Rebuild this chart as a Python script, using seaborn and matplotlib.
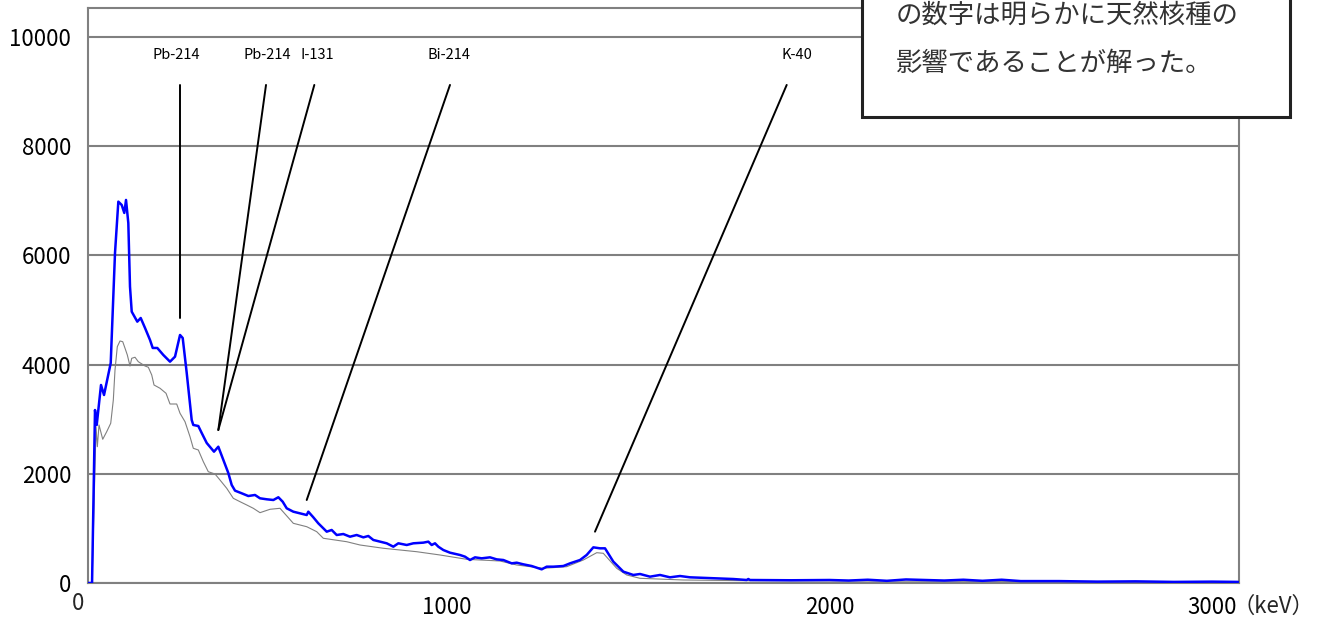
import numpy as np
import pandas as pd
import matplotlib
matplotlib.use("Agg")
import matplotlib.pyplot as plt
from matplotlib.patches import Rectangle
import seaborn as sns

# ---- data (keV, counts) ----
blue_kev = [61, 72, 79.7, 84.2, 95.4, 103.3, 120.8, 132.0, 140.7, 149.5, 156.3, 160.8, 166.8,
            171.2, 175.7, 190.3, 199.2, 210.5, 223.5, 230.6, 242.6, 258.3, 275.8, 288.9, 302.0,
            309.0, 319.5, 332.5, 336.7, 349.8, 358.7, 371.8, 390.8, 402.1, 415.2, 428.2, 437.1,
            445.8, 463.2, 480.5, 498.0, 511.1, 528.6, 546.0, 559.1, 570.4, 580.9, 598.2, 615.7,
            633.2, 637.4, 650.5, 663.5, 676.6, 685.5, 698.5, 711.6, 728.9, 746.4, 763.8, 781.3,
            794.3, 807.4, 824.8, 842.3, 859.7, 872.8, 894.6, 912.0, 938.1, 951.2, 959.9, 968.6,
            977.3, 990.4, 1007.8, 1034.0, 1047.1, 1060.1, 1073.2, 1090.6, 1112.4, 1129.8, 1147.3,
            1169.1, 1182.2, 1199.6, 1221.4, 1247.5, 1260.6, 1278.0, 1304.1, 1321.6, 1347.7,
            1365.1, 1382.6, 1400.0, 1413.1, 1434.8, 1461.0, 1487.1, 1504.6, 1530.7, 1556.9,
            1583.0, 1609.2, 1635.3, 1705.0, 1748.6, 1783.4, 1787.8, 1792.2, 1900, 2000, 2050,
            2100, 2150, 2200, 2300, 2350, 2400, 2450, 2500, 2600, 2700, 2800, 2900, 3000, 3068]
blue_cnt = [0, 0, 3168, 2894, 3626, 3443, 4029, 6044, 6984, 6923, 6777, 7015, 6593,
            5427, 4969, 4786, 4853, 4670, 4451, 4304, 4304, 4176, 4053, 4145, 4542,
            4487, 3846, 2985, 2894, 2875, 2747, 2564, 2405, 2496, 2253, 2015, 1795,
            1691, 1643, 1593, 1612, 1551, 1533, 1520, 1570, 1489, 1368, 1306, 1276,
            1245, 1306, 1203, 1093, 1002, 940, 971, 879, 897, 848, 879, 836,
            861, 788, 757, 727, 665, 727, 696, 727, 739, 757, 696, 727,
            665, 604, 555, 513, 482, 421, 470, 452, 470, 433, 421,
            360, 372, 342, 311, 250, 299, 299, 311, 360, 421,
            513, 653, 635, 635, 391, 208, 147, 165, 116, 147,
            104, 128, 104, 85, 73, 55, 73, 55, 50, 55, 45,
            60, 40, 65, 45, 60, 40, 60, 35, 35, 25, 30, 20, 25, 20]

gray_kev = [61, 72, 82.4, 85.8, 90.2, 99.9, 110.3, 120.8, 127.6, 132.0, 138.0, 145.1, 152.2,
            158.2, 164.2, 171.2, 175.7, 184.3, 192.9, 210.5, 219.1, 228.0, 234.0, 249.7, 265.4,
            275.8, 293.3, 302.0, 315.0, 328.1, 336.7, 349.8, 362.9, 375.9, 393.5, 406.5, 424.1,
            441.3, 458.8, 476.3, 493.6, 511.1, 537.3, 563.4, 598.2, 633.2, 659.3, 676.6, 737.8,
            772.5, 833.5, 920.8, 981.7, 1051.5, 1138.6, 1182.2, 1251.8, 1312.9, 1356.3, 1391.4,
            1408.6, 1443.7, 1469.8, 1504.6, 1617.8, 1792, 2100, 2400, 2700, 3068]
gray_cnt = [0, 0, 2863, 2496, 2894, 2632, 2771, 2925, 3352, 3901, 4328, 4432, 4419,
            4299, 4176, 3974, 4115, 4134, 4053, 3974, 3951, 3810, 3626, 3566, 3474,
            3278, 3278, 3108, 2954, 2679, 2467, 2436, 2222, 2038, 1996, 1886, 1734,
            1551, 1489, 1429, 1368, 1288, 1350, 1368, 1093, 1031, 940, 819, 756,
            696, 636, 573, 513, 434, 403, 330, 269, 299, 421, 555,
            544, 269, 147, 86, 55, 42, 35, 30, 28, 25]

# nuclide labels and leader lines
nuclide_names = ["Pb-214", "Pb-214", "I-131", "Bi-214", "K-40"]
nuclide_label_x = [291.5, 529.4, 660.0, 1005.0, 1916.0]
nuclide_label_y = [9670, 9670, 9670, 9670, 9670]
leader_top_x = [302.0, 526.8, 653.1, 1007.8, 1888.1]
leader_top_y = [9121, 9121, 9121, 9121, 9121]
leader_tip_x = [302.0, 402.1, 402.1, 633.2, 1386.9]
leader_tip_y = [4853, 2802, 2802, 1520, 940]

x_ticks = [1000, 2000, 3000]
y_ticks = [0, 2000, 4000, 6000, 8000, 10000]
note_lines = ["の数字は明らかに天然核種の", "影響であることが解った。"]

# ---- figure ----
sns.set_style("white")
plt.rcParams["font.family"] = ["Noto Sans CJK JP", "DejaVu Sans"]

W, H = 1323, 619
fig = plt.figure(figsize=(W / 100, H / 100), dpi=100)
ax = fig.add_axes([88 / W, 1 - 583 / H, (1239 - 88) / W, (583 - 8) / H])

df_b = pd.DataFrame({"keV": blue_kev, "count": blue_cnt})
df_g = pd.DataFrame({"keV": gray_kev, "count": gray_cnt})
sns.lineplot(data=df_g, x="keV", y="count", ax=ax, color="#808080", linewidth=0.8,
             estimator=None, sort=False, zorder=3)
sns.lineplot(data=df_b, x="keV", y="count", ax=ax, color="#0000FF", linewidth=1.8,
             estimator=None, sort=False, zorder=4)

ax.set_xlim(61.4, 3070.6)
ax.set_ylim(0, 10530)
ax.set_xticks(x_ticks)
ax.set_xticklabels([str(t) for t in x_ticks])
ax.set_yticks(y_ticks)
ax.set_yticklabels([str(t) for t in y_ticks])
ax.tick_params(axis="both", length=0, labelsize=16, colors="black")
ax.tick_params(axis="y", pad=12)
ax.tick_params(axis="x", pad=9)
ax.set_xlabel("")
ax.set_ylabel("")
ax.grid(axis="y", color="#808080", linewidth=1.5, zorder=1)
ax.grid(axis="x", visible=False)
ax.set_axisbelow(True)
for s in ax.spines.values():
    s.set_color("#808080")
    s.set_linewidth(1.5)

# extra axis texts
ax.text(-10 / (1239 - 88), -9 / 575, "0", transform=ax.transAxes, ha="center", va="top",
        fontsize=16)
fig.text(1232 / W, 1 - 606 / H, "（keV）", ha="left", va="center", fontsize=16)

# leader lines and labels
for name, lx, ly, tx, ty, px, py in zip(nuclide_names, nuclide_label_x, nuclide_label_y,
                                         leader_top_x, leader_top_y, leader_tip_x, leader_tip_y):
    ax.plot([tx, px], [ty, py], color="black", linewidth=1.4, zorder=5)
    ax.text(lx, ly, name, ha="center", va="center", fontsize=10.5, color="black", zorder=5)

# note box (cut off at the top)
rect = Rectangle((862 / W, 1 - 117 / H), (1290 - 862) / W, 0.3, transform=fig.transFigure,
                 facecolor="white", edgecolor="#222222", linewidth=2.2, zorder=10)
fig.add_artist(rect)
fig.text(896 / W, 1 - 15 / H, note_lines[0], ha="left", va="center", fontsize=19,
         color="#333333", zorder=11)
fig.text(896 / W, 1 - 63 / H, note_lines[1], ha="left", va="center", fontsize=19,
         color="#333333", zorder=11)

fig.savefig("out.png", dpi=100)
